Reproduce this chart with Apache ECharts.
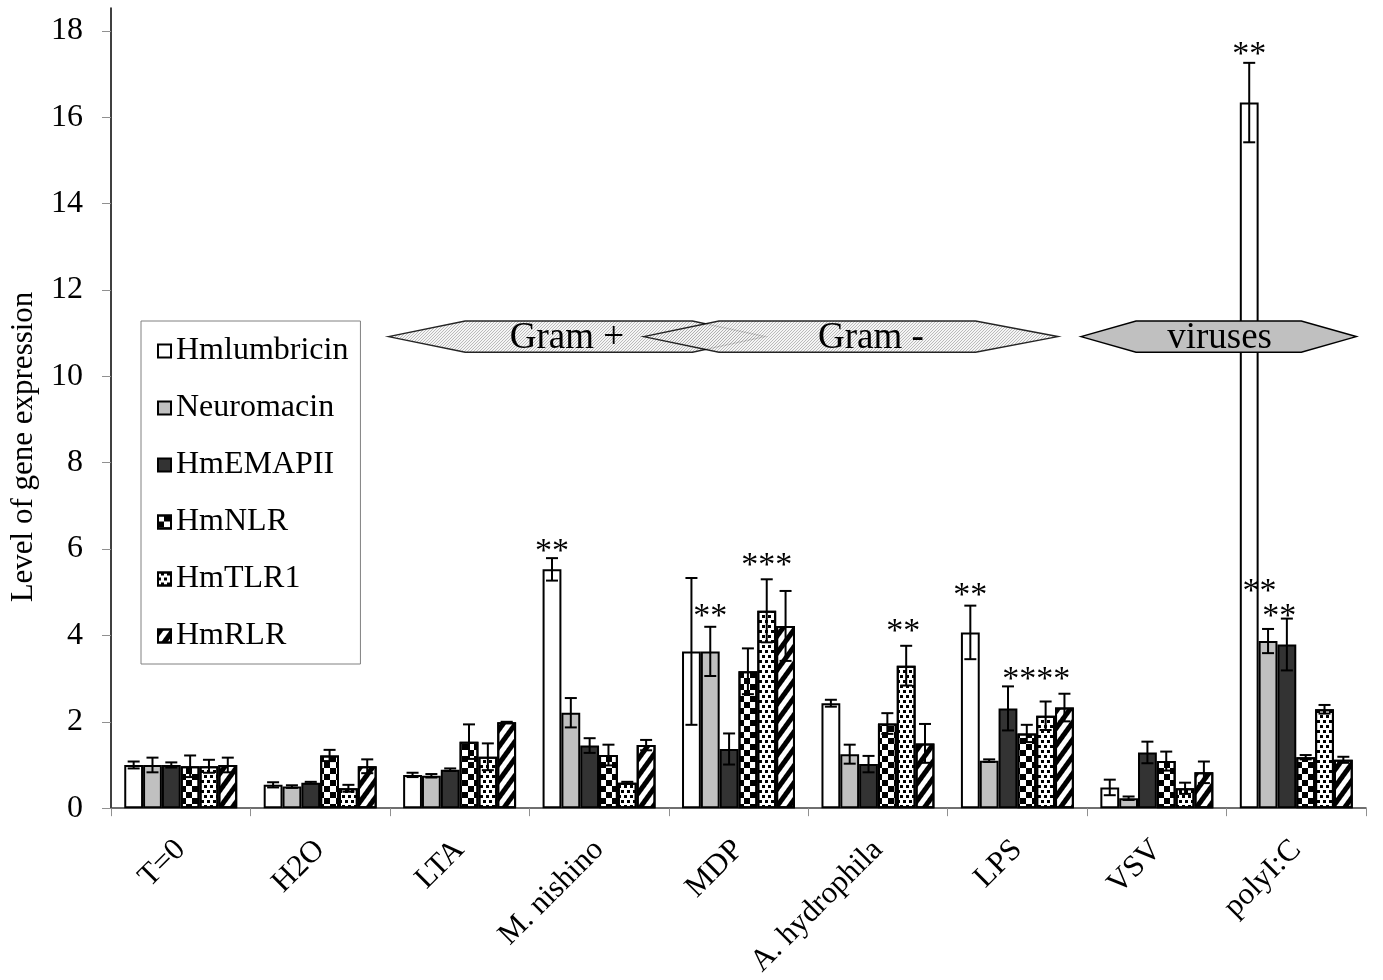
<!DOCTYPE html>
<html>
<head>
<meta charset="utf-8">
<script src="https://cdn.jsdelivr.net/npm/echarts@6/dist/echarts.min.js"></script>
<style>
html,body{margin:0;padding:0;background:#fff;}
#chart{width:1383px;height:980px;}
</style>
</head>
<body>
<div id="chart"></div>
<script>
// ---------- data ----------
const categories = ['T=0','H2O','LTA','M. nishino','MDP','A. hydrophila','LPS','VSV','polyI:C'];
const seriesNames = ['Hmlumbricin','Neuromacin','HmEMAPII','HmNLR','HmTLR1','HmRLR'];

const hmlumbricin    = [1.00, 0.54, 0.77, 5.53, 3.63, 2.43, 4.07, 0.48, 16.34];
const hmlumbricinErr = [0.08, 0.06, 0.05, 0.26, 1.70, 0.08, 0.62, 0.18, 0.92];
const neuromacin     = [1.00, 0.50, 0.75, 2.21, 3.63, 1.25, 1.10, 0.23, 3.87];
const neuromacinErr  = [0.17, 0.03, 0.04, 0.34, 0.57, 0.22, 0.03, 0.04, 0.28];
const hmemapii       = [1.00, 0.59, 0.89, 1.45, 1.37, 1.02, 2.31, 1.29, 3.79];
const hmemapiiErr    = [0.06, 0.02, 0.03, 0.17, 0.36, 0.19, 0.51, 0.25, 0.60];
const hmnlr          = [0.97, 1.22, 1.54, 1.23, 3.17, 1.96, 1.73, 1.09, 1.18];
const hmnlrErr       = [0.25, 0.13, 0.40, 0.24, 0.53, 0.24, 0.20, 0.22, 0.05];
const hmtlr1         = [0.97, 0.46, 1.19, 0.59, 4.57, 3.30, 2.14, 0.46, 2.29];
const hmtlr1Err      = [0.15, 0.08, 0.31, 0.02, 0.73, 0.46, 0.33, 0.13, 0.10];
const hmrlr          = [1.00, 0.97, 1.99, 1.46, 4.22, 1.50, 2.33, 0.83, 1.12];
const hmrlrErr       = [0.17, 0.16, 0.01, 0.12, 0.81, 0.45, 0.32, 0.25, 0.07];

const yTicks = [0, 2, 4, 6, 8, 10, 12, 14, 16, 18];

// significance marks: category index, bar slot, value height, text
const sigCat   = [3, 4, 4, 5, 6, 6, 8, 8, 8];
const sigSlot  = [0, 1, 4, 3.85, 0, 3.5, 0, 0.55, 1.6];
const sigValue = [6.05, 4.55, 5.73, 4.20, 5.02, 3.08, 17.56, 5.12, 4.54];
const sigText  = ['**','**','***','**','**','****','**','**','**'];

// group arrows (in category units / value units)
const arrowLabels = ['Gram +', 'Gram -', 'viruses'];
const arrowTipL   = [1.49, 3.32, 6.456];
const arrowCornL  = [2.04, 3.86, 6.851];
const arrowCornR  = [3.67, 5.70, 8.036];
const arrowTipR   = [4.19, 6.29, 8.430];
const arrowTextX  = [2.77, 4.95, 7.45];
const arrowY      = [10.92, 10.92, 10.92];
const arrowHalfH  = 0.36;

// ---------- styles ----------
const FONT = "'Liberation Serif','Times New Roman',serif";
const NS = 6;
const CAT_GAP = 0.19;
const values = [hmlumbricin, neuromacin, hmemapii, hmnlr, hmtlr1, hmrlr];
const errors = [hmlumbricinErr, neuromacinErr, hmemapiiErr, hmnlrErr, hmtlr1Err, hmrlrErr];
const barStyles = [
  {color: '#ffffff'},
  {color: '#c0c0c0'},
  {color: '#333333'},
  {color: '#ffffff', decal: {symbol: 'rect', symbolSize: 1, color: '#000', dashArrayX: [[6, 6], [0, 6, 6, 0]], dashArrayY: [6, 0]}},
  {color: '#ffffff', decal: {symbol: 'rect', symbolSize: 1, color: '#000', dashArrayX: [[3, 3], [0, 3, 3, 0]], dashArrayY: [3, 1.5]}},
  {color: '#ffffff', decal: {symbol: 'rect', symbolSize: 1, color: '#000', dashArrayX: [1, 0], dashArrayY: [5, 5], rotation: -Math.PI * 0.3}}
];

// hatch pattern for Gram arrows
const hatch = document.createElement('canvas');
hatch.width = 3; hatch.height = 3;
(function(){
  const c = hatch.getContext('2d');
  c.fillStyle = '#f4f4f4';
  c.fillRect(0, 0, 3, 3);
  c.fillStyle = '#b0b0b0';
  c.fillRect(0, 2, 1, 1);
  c.fillRect(1, 1, 1, 1);
  c.fillRect(2, 0, 1, 1);
})();
const arrowFills = [{image: hatch, repeat: 'repeat'}, {image: hatch, repeat: 'repeat'}, '#c0c0c0'];

function slotX(api, cat, slot) {
  const c = api.coord([cat, 0])[0];
  const band = api.size([1, 0])[0];
  const group = band * (1 - CAT_GAP);
  const bw = group / NS;
  return c - group / 2 + (slot + 0.5) * bw;
}

const errData = [];
for (let s = 0; s < NS; s++) for (let c = 0; c < categories.length; c++) errData.push([c, values[s][c], errors[s][c], s]);

const chart = echarts.init(document.getElementById('chart'));
const barSeries = seriesNames.map((n, i) => ({
  name: n, type: 'bar', data: values[i], barGap: '0%', barCategoryGap: (CAT_GAP * 100) + '%',
  itemStyle: Object.assign({borderColor: '#000', borderWidth: 2}, barStyles[i]),
  z: 2, animation: false
}));

const option = {
  animation: false,
  backgroundColor: '#fff',
  grid: {left: 111, right: 17, top: 8, bottom: 170, containLabel: false},
  legend: {
    orient: 'vertical', left: 141, top: 321, icon: 'rect',
    itemWidth: 13, itemHeight: 13, itemGap: 25, itemTextGap: 10,
    padding: [14, 12, 12, 16],
    borderColor: '#808080', borderWidth: 1,
    textStyle: {fontFamily: FONT, fontSize: 32, color: '#000'},
    data: seriesNames
  },
  xAxis: {
    type: 'category', data: categories,
    axisLine: {lineStyle: {color: '#404040', width: 1.5}},
    axisTick: {show: true, length: 8, lineStyle: {color: '#909090'}},
    axisLabel: {rotate: 45, interval: 0, margin: 37, fontFamily: FONT, fontSize: 31, color: '#000'}
  },
  yAxis: {
    type: 'value', min: 0, max: 18.53,
    splitLine: {show: false},
    axisLine: {show: true, lineStyle: {color: '#000', width: 1.5}},
    axisTick: {show: true, length: 9, lineStyle: {color: '#909090'}, customValues: yTicks},
    axisLabel: {margin: 28, fontFamily: FONT, fontSize: 32, color: '#000', customValues: yTicks}
  },
  graphic: [{
    type: 'text', x: 24, y: 447, rotation: Math.PI / 2,
    style: {text: 'Level of gene expression', font: '31px ' + FONT, fill: '#000', align: 'center', verticalAlign: 'middle'}
  }],
  series: [
    ...barSeries,
    {
      type: 'custom', name: 'errors', z: 6, silent: true, clip: false,
      data: errData, encode: {x: 0, y: 1},
      renderItem: function (params, api) {
        const cat = api.value(0), v = api.value(1), e = api.value(2), s = api.value(3);
        if (!e) return null;
        const x = slotX(api, cat, s);
        const yt = api.coord([cat, v + e])[1];
        const yb = api.coord([cat, Math.max(0, v - e)])[1];
        const cap = 6;
        const st = {stroke: '#000', lineWidth: 2};
        return {type: 'group', children: [
          {type: 'line', shape: {x1: x, y1: yt, x2: x, y2: yb}, style: st},
          {type: 'line', shape: {x1: x - cap, y1: yt, x2: x + cap, y2: yt}, style: st},
          {type: 'line', shape: {x1: x - cap, y1: yb, x2: x + cap, y2: yb}, style: st}
        ]};
      }
    },
    {
      type: 'custom', name: 'sig', z: 7, silent: true, clip: false,
      data: sigCat.map((c, i) => [c, sigValue[i]]),
      renderItem: function (params, api) {
        const i = params.dataIndex;
        const x = slotX(api, sigCat[i], sigSlot[i]);
        const y = api.coord([sigCat[i], sigValue[i]])[1];
        return {type: 'text', x: x, y: y + 5, style: {text: sigText[i], font: '34px ' + FONT, fill: '#000', align: 'center', verticalAlign: 'middle'}};
      }
    },
    {
      type: 'custom', name: 'groups', zlevel: 1, z: 10, silent: true, clip: false,
      data: arrowLabels.map((l, i) => [arrowTextX[i], arrowY[i]]),
      renderItem: function (params, api) {
        const i = params.dataIndex;
        const c0 = api.coord([0, 0])[0];
        const band = api.size([1, 0])[0];
        const X = v => c0 + v * band;
        const yc = api.coord([0, arrowY[i]])[1];
        const yt = api.coord([0, arrowY[i] + arrowHalfH])[1];
        const yb = api.coord([0, arrowY[i] - arrowHalfH])[1];
        return {type: 'group', children: [
          {type: 'polygon', shape: {points: [[X(arrowTipL[i]), yc], [X(arrowCornL[i]), yt], [X(arrowCornR[i]), yt], [X(arrowTipR[i]), yc], [X(arrowCornR[i]), yb], [X(arrowCornL[i]), yb]]},
           style: {fill: arrowFills[i], stroke: '#000', lineWidth: 1.5, opacity: i < 2 ? 0.85 : 1}},
          {type: 'text', x: X(arrowTextX[i]), y: yc + 2, style: {text: arrowLabels[i], font: '37px ' + FONT, fill: '#000', align: 'center', verticalAlign: 'middle'}}
        ]};
      }
    }
  ]
};
chart.setOption(option);
</script>
</body>
</html>
